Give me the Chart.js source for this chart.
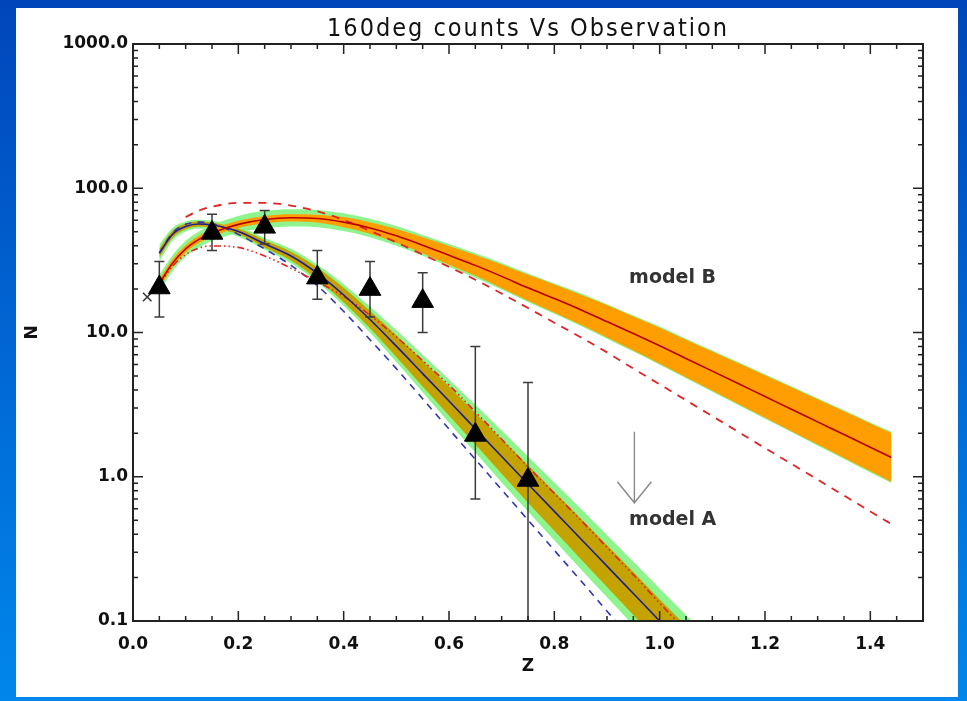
<!DOCTYPE html>
<html lang="en">
<head>
  <meta charset="UTF-8">
  <title>160deg counts Vs Observation</title>
  <style>
    html, body { margin: 0; padding: 0; }
    body {
      width: 967px; height: 701px; overflow: hidden; position: relative;
      background: linear-gradient(to bottom, #0046bb, #0087eb);
    }
    #grafico { position: absolute; left: 16px; top: 8px; background: #ffffff; }
  </style>
</head>
<body>

  <canvas id="grafico" width="942" height="689"></canvas>

  <script src="https://cdn.jsdelivr.net/npm/chart.js"></script>

  <script>
    // redshift grid of model A curves
    const zA = [0.05, 0.075, 0.1, 0.125, 0.15, 0.2, 0.25, 0.3, 0.35, 0.4, 0.45, 0.5,
                0.55, 0.6, 0.65, 0.7, 0.75, 0.8, 0.85, 0.9, 0.95, 1.0, 1.05, 1.1];
    const modelA   = [35.5, 47.9, 54.3, 56.5, 55.6, 50.1, 41.2, 33.9, 25.7, 18.2, 12.3, 8.04,
                      5.19, 3.35, 2.15, 1.38, 0.89, 0.575, 0.372, 0.240, 0.155, 0.100, 0.0646, 0.0417];
    const aGreenHi = [40.7, 53.1, 58.9, 60.5, 59.6, 54.3, 45.2, 38.0, 29.5, 21.6, 15.1, 10.4,
                      7.0, 4.73, 3.15, 2.09, 1.38, 0.912, 0.603, 0.394, 0.257, 0.168, 0.110, 0.0708];
    const aGreenLo = [30.9, 43.2, 50.1, 52.7, 51.9, 46.2, 37.6, 30.2, 22.4, 15.3, 10.0, 6.24,
                      3.85, 2.37, 1.47, 0.912, 0.575, 0.363, 0.229, 0.146, 0.0933, 0.0596, 0.038, 0.0245];
    const aOliveHi = [38.0, 50.7, 56.9, 58.9, 57.9, 52.5, 43.6, 36.3, 28.2, 20.4, 14.1, 9.55,
                      6.38, 4.22, 2.77, 1.82, 1.20, 0.785, 0.513, 0.335, 0.219, 0.141, 0.0923, 0.0596];
    const aOliveLo = [33.1, 45.2, 51.9, 54.2, 53.3, 47.9, 38.9, 31.6, 23.4, 16.2, 10.7, 6.76,
                      4.22, 2.66, 1.67, 1.05, 0.661, 0.422, 0.269, 0.172, 0.110, 0.0708, 0.0452, 0.0292];
    const altA     = [35.5, 49.0, 56.2, 58.2, 56.9, 47.9, 38.0, 29.2, 21.1, 14.0, 8.91, 5.62,
                      3.47, 2.14, 1.32, 0.813, 0.501, 0.309, 0.191, 0.117, 0.0724, 0.0447, 0.0275, 0.017];
    const dotA     = [21.4, 28.8, 34.7, 38.5, 39.8, 38.9, 33.9, 27.9, 22.4, 17.8, 13.2, 9.33,
                      6.38, 4.32, 2.82, 1.82, 1.17, 0.767, 0.501, 0.324, 0.209, 0.133, 0.0851, 0.054];

    // redshift grid of model B curves
    const zB = [0.05, 0.075, 0.1, 0.125, 0.15, 0.2, 0.25, 0.3, 0.35, 0.4, 0.45, 0.5, 0.55, 0.6,
                0.65, 0.7, 0.75, 0.8, 0.85, 0.9, 0.95, 1.0, 1.05, 1.1, 1.15, 1.2, 1.25, 1.3,
                1.35, 1.4, 1.44];
    const modelB    = [21.9, 30.2, 38.0, 44.2, 49.0, 56.2, 60.7, 62.4, 61.7, 58.2, 53.1, 46.8, 40.3, 34.3,
                       29.2, 24.5, 20.4, 17.2, 14.4, 11.9, 9.84, 8.09, 6.61, 5.40, 4.41, 3.60, 2.94, 2.40,
                       1.96, 1.60, 1.36];
    const bOrangeHi = [23.4, 32.2, 40.3, 46.8, 51.9, 59.6, 64.3, 66.1, 65.6, 63.1, 58.2, 52.2, 45.7, 39.8,
                       34.5, 29.6, 25.1, 21.5, 18.3, 15.5, 12.9, 10.8, 8.91, 7.38, 6.11, 5.05, 4.17, 3.44,
                       2.84, 2.34, 2.01];
    const bOrangeLo = [20.4, 28.3, 35.9, 41.7, 46.2, 53.1, 57.3, 58.9, 57.9, 53.7, 48.4, 41.9, 35.5, 29.5,
                       24.7, 20.3, 16.6, 13.7, 11.3, 9.23, 7.50, 6.07, 4.90, 3.94, 3.18, 2.56, 2.07, 1.67,
                       1.35, 1.09, 0.92];
    const bGreenHi  = [25.1, 34.3, 43.2, 50.1, 55.6, 64.3, 69.7, 71.6, 70.8, 67.1, 61.5, 54.7, 47.5, 41.0,
                       35.4, 30.3, 25.6, 21.9, 18.7, 15.7, 13.1, 11.0, 9.06, 7.50, 6.21, 5.13, 4.24, 3.50,
                       2.89, 2.38, 2.05];
    const bGreenLo  = [19.1, 26.6, 33.5, 38.9, 43.2, 49.2, 52.8, 54.3, 53.7, 50.5, 45.8, 40.0, 34.1, 28.6,
                       24.0, 19.9, 16.3, 13.5, 11.1, 9.06, 7.38, 5.97, 4.82, 3.88, 3.13, 2.52, 2.04, 1.64,
                       1.33, 1.07, 0.906];
    const altB      = [null, null, 63.1, 70.0, 74.5, 79.1, 79.1, 75.9, 69.2, 60.3, 50.7, 42.2, 34.7, 28.5,
                       23.2, 18.6, 14.8, 11.7, 9.27, 7.28, 5.62, 4.37, 3.39, 2.63, 2.04, 1.58, 1.23, 0.955,
                       0.741, 0.575, 0.470];

    // observed counts with error bars
    const obsZ  = [0.05, 0.15, 0.25, 0.35, 0.45, 0.55, 0.65, 0.75];
    const obsN  = [20.5, 49, 54, 24, 20, 16.5, 1.95, 0.95];
    const obsHi = [31, 66, 70, 37, 31, 26, 8.0, 4.5];
    const obsLo = [12.8, 37, 41, 17, 12.8, 10, 0.7, 0.05];
    const crossZ = [0.027];
    const crossN = [17.6];

    // arrow and model labels
    const arrowZ = 0.952, arrowFrom = 2.05, arrowTo = 0.66;
    const labelZ = 0.942, labelA = 0.5, labelB = 23.9;

    const yDecades = [0.1, 1, 10, 100, 1000];

    const pts = (zs, ns) => zs.map((z, i) => ({ x: z, y: ns[i] }));

    const band = (zs, ns, color, order, fill) => ({
      data: pts(zs, ns), borderWidth: 0, pointRadius: 0, tension: 0.4,
      cubicInterpolationMode: 'monotone', backgroundColor: color, fill: fill, order: order
    });
    const curve = (zs, ns, color, dash, order, width) => ({
      data: pts(zs, ns), borderColor: color, borderWidth: width || 1.6, borderDash: dash,
      pointRadius: 0, tension: 0.4, cubicInterpolationMode: 'monotone', fill: false, order: order
    });

    const datasets = [
      band(zA, aGreenHi, '#8ef58e', 20, '+1'),
      band(zA, aGreenLo, '#8ef58e', 20, false),
      band(zB, bGreenHi, '#8ef58e', 19, '+1'),
      band(zB, bGreenLo, '#8ef58e', 19, false),
      band(zA, aOliveHi, '#c4a200', 18, '+1'),
      band(zA, aOliveLo, '#c4a200', 18, false),
      band(zB, bOrangeHi, '#ff9e00', 17, '+1'),
      band(zB, bOrangeLo, '#ff9e00', 17, false),
      curve(zA, altA, '#3535b0', [7, 6], 10),
      curve(zB, altB, '#e02424', [8, 7], 9, 1.8),
      curve(zA, dotA, '#e02424', [7, 3, 1.5, 3, 1.5, 3, 1.5, 3], 8),
      curve(zA, modelA, '#1e1e8c', [], 7),
      curve(zB, modelB, '#b80000', [], 6),
      { data: pts(crossZ, crossN), showLine: false, pointStyle: 'crossRot', pointRadius: 6,
        borderColor: '#333', borderWidth: 1.5, order: 2 },
      { data: pts(obsZ, obsN), showLine: false, pointStyle: 'triangle', pointRadius: 12.5,
        backgroundColor: '#000', borderColor: '#000', borderWidth: 1, order: 1 }
    ];
    const TRI = datasets.length - 1;

    // box, inward ticks, error bars, arrow and text
    const decor = {
      id: 'decor',
      beforeDatasetDraw(chart, args) {
        if (args.index !== TRI) return;
        const { ctx, chartArea: a, scales: { x, y } } = chart;
        ctx.save();
        ctx.beginPath();
        ctx.rect(a.left, a.top, a.width, a.height);
        ctx.clip();
        ctx.strokeStyle = '#3a3a3a';
        ctx.lineWidth = 1.5;
        obsZ.forEach((z, i) => {
          const px = x.getPixelForValue(z);
          const top = y.getPixelForValue(obsHi[i]);
          const bot = y.getPixelForValue(obsLo[i]);
          ctx.beginPath();
          ctx.moveTo(px, top); ctx.lineTo(px, bot);
          ctx.moveTo(px - 5, top); ctx.lineTo(px + 5, top);
          ctx.moveTo(px - 5, bot); ctx.lineTo(px + 5, bot);
          ctx.stroke();
        });
        ctx.restore();
      },
      afterDatasetsDraw(chart) {
        const { ctx, chartArea: a, scales: { x, y } } = chart;
        ctx.save();
        ctx.strokeStyle = '#222';
        ctx.lineWidth = 2;
        ctx.strokeRect(a.left, a.top, a.width, a.height);

        ctx.lineWidth = 1.5;
        ctx.beginPath();
        for (let i = 1; i < 30; i++) {
          const px = x.getPixelForValue(i * 0.05);
          const len = i % 4 === 0 ? 10 : 5;
          ctx.moveTo(px, a.bottom); ctx.lineTo(px, a.bottom - len);
          ctx.moveTo(px, a.top); ctx.lineTo(px, a.top + len);
        }
        yDecades.forEach((d, j) => {
          for (let k = 1; k <= 9; k++) {
            if (j === yDecades.length - 1 && k > 1) break;
            const py = y.getPixelForValue(d * k);
            const len = k === 1 ? 10 : 5;
            ctx.moveTo(a.left, py); ctx.lineTo(a.left + len, py);
            ctx.moveTo(a.right, py); ctx.lineTo(a.right - len, py);
          }
        });
        ctx.stroke();

        // arrow towards model A
        const ax = x.getPixelForValue(arrowZ);
        const ay0 = y.getPixelForValue(arrowFrom);
        const ay1 = y.getPixelForValue(arrowTo);
        ctx.strokeStyle = '#8a8a8a';
        ctx.lineWidth = 1.4;
        ctx.beginPath();
        ctx.moveTo(ax, ay0); ctx.lineTo(ax, ay1);
        ctx.moveTo(ax - 17, ay1 - 21); ctx.lineTo(ax, ay1); ctx.lineTo(ax + 17, ay1 - 21);
        ctx.stroke();

        ctx.fillStyle = '#333';
        ctx.font = 'bold 19px "DejaVu Sans"';
        ctx.textAlign = 'left';
        ctx.textBaseline = 'middle';
        ctx.fillText('model B', x.getPixelForValue(labelZ), y.getPixelForValue(labelB));
        ctx.fillText('model A', x.getPixelForValue(labelZ), y.getPixelForValue(labelA));

        ctx.fillStyle = '#111';
        ctx.textAlign = 'center';
        ctx.textBaseline = 'alphabetic';
        ctx.font = '25px "DejaVu Sans Condensed", "DejaVu Sans"';
        ctx.letterSpacing = '2px';
        ctx.fillText('160deg counts Vs Observation', (a.left + a.right) / 2, 28);
        ctx.letterSpacing = '0px';

        ctx.font = 'bold 17px "DejaVu Sans"';
        ctx.textBaseline = 'middle';
        ctx.fillText('Z', (a.left + a.right) / 2, 659);
        ctx.translate(17, (a.top + a.bottom) / 2);
        ctx.rotate(-Math.PI / 2);
        ctx.fillText('N', 0, 0);
        ctx.restore();
      }
    };

    const tickFont = { family: 'DejaVu Sans', size: 17, weight: 'bold' };

    new Chart(document.querySelector('#grafico'), {
      type: 'line',
      data: { datasets },
      options: {
        responsive: false,
        animation: false,
        events: [],
        layout: { padding: { top: 36, right: 35, left: 0, bottom: 0 } },
        plugins: { legend: { display: false }, tooltip: { enabled: false }, title: { display: false } },
        scales: {
          x: {
            type: 'linear', min: 0, max: 1.5,
            grid: { display: false, drawTicks: false },
            border: { display: false },
            ticks: {
              stepSize: 0.2, includeBounds: false, maxRotation: 0, padding: 13,
              color: '#111', font: tickFont,
              callback: v => v.toFixed(1)
            },
            afterFit: s => { s.height = 76; }
          },
          y: {
            type: 'logarithmic', min: 0.1, max: 1000,
            grid: { display: false, drawTicks: false },
            border: { display: false },
            ticks: {
              autoSkip: false, padding: 5, color: '#111', font: tickFont,
              callback: v => {
                const l = Math.log10(v);
                return Math.abs(l - Math.round(l)) < 1e-6 ? v.toFixed(1) : '';
              }
            },
            afterFit: s => { s.width = 117; }
          }
        }
      },
      plugins: [decor]
    });
  </script>

</body>
</html>
